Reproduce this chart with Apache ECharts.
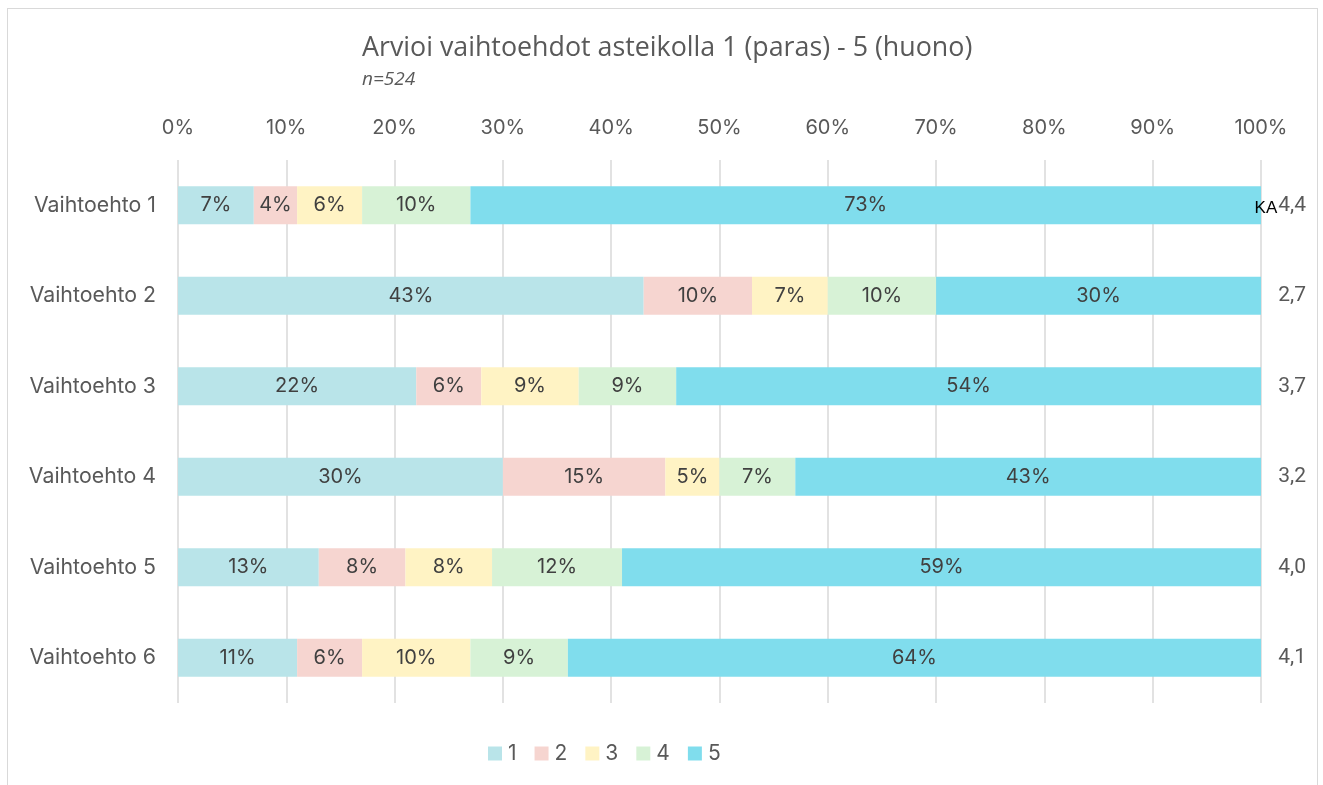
<!DOCTYPE html>
<html><head><meta charset="utf-8">
<script src="https://cdn.jsdelivr.net/npm/echarts@6/dist/echarts.min.js"></script>
<style>
html,body{margin:0;padding:0;background:#fff;}
#frame{position:absolute;left:7px;top:8px;width:1311px;height:800px;border:1px solid #d9d9d9;box-sizing:border-box;}
#c{position:absolute;left:0;top:0;width:1323px;height:785px;}
</style></head>
<body><div id="frame"></div><div id="c"></div>
<script>
const categories = ['Vaihtoehto 1','Vaihtoehto 2','Vaihtoehto 3','Vaihtoehto 4','Vaihtoehto 5','Vaihtoehto 6'];
const seriesNames = ['1','2','3','4','5'];
const s1 = [7, 43, 22, 30, 13, 11];
const s2 = [4, 10, 6, 15, 8, 6];
const s3 = [6, 7, 9, 5, 8, 10];
const s4 = [10, 10, 9, 7, 12, 9];
const s5 = [73, 30, 54, 43, 59, 64];
const averages = ['4,4','2,7','3,7','3,2','4,0','4,1'];
const xTicks = [0,10,20,30,40,50,60,70,80,90,100];
const colors = ['#b9e4e9','#f6d5d0','#fff3c4','#d7f2d6','#80dded'];

const chart = echarts.init(document.getElementById('c'));
const font = 'Inter';
const allData = [s1,s2,s3,s4,s5];
chart.setOption({
  animation:false,
  title:{
    text:'Arvioi vaihtoehdot asteikolla 1 (paras) - 5 (huono)',
    subtext:'n=524',
    left:357, top:30,
    itemGap:8,
    textStyle:{fontFamily:'Open Sans',fontSize:26.8,fontWeight:'normal',color:'#595959'},
    subtextStyle:{fontFamily:'Open Sans',fontSize:19,fontStyle:'italic',color:'#595959'}
  },
  legend:{
    data:seriesNames, bottom:16, left:483,
    itemWidth:14,itemHeight:14,itemGap:18,
    icon:'rect',
    textStyle:{fontFamily:font,fontSize:21,color:'#595959',padding:[0,0,0,1]}
  },
  grid:{left:178,right:62,top:160,bottom:82},
  xAxis:{
    type:'value', position:'top', min:0, max:100, interval:10,
    axisLine:{show:false}, axisTick:{show:false},
    splitLine:{lineStyle:{color:'#d9d9d9',width:1.5}},
    axisLabel:{margin:22,fontFamily:font,fontSize:20,color:'#595959',
      formatter:v=> xTicks.includes(v) ? v+'%' : ''}
  },
  yAxis:[{
    type:'category', data:categories, inverse:true,
    axisLine:{show:false}, axisTick:{show:false},
    axisLabel:{margin:22,fontFamily:font,fontSize:21.3,color:'#595959'}
  },{
    type:'category', data:averages, inverse:true, position:'right', z:10,
    axisLine:{show:false}, axisTick:{show:false},
    axisLabel:{margin:45,align:'right',fontFamily:'Roboto',fontSize:21,color:'#595959',
      formatter:(v,i)=> i===0 ? '{ka|KA}'+v : v,
      rich:{ka:{fontFamily:'Liberation Sans',fontSize:17,color:'#000',verticalAlign:'bottom',padding:[7,1,0,0]}}}
  }],
  series: seriesNames.map((n,k)=>({
    name:n, type:'bar', stack:'all', barWidth:'42%',
    yAxisIndex:0,
    itemStyle:{color:colors[k]},
    label:{show:true,position:'inside',formatter:p=>p.value+'%',
      fontFamily:font,fontSize:20,color:'#404040'},
    data:allData[k]
  }))
});
</script></body></html>
